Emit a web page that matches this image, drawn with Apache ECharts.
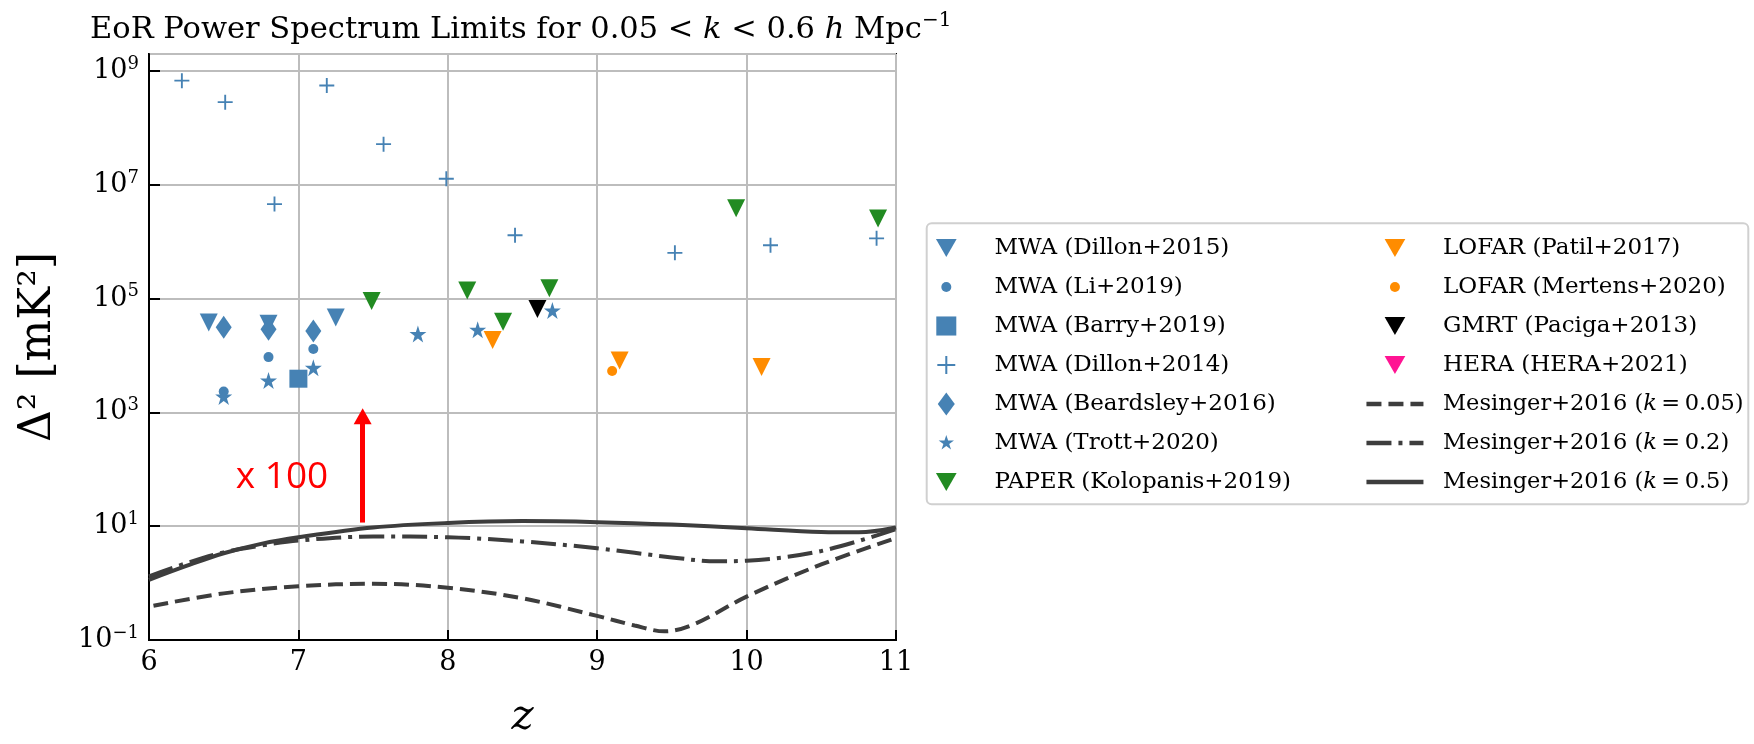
<!DOCTYPE html>
<html>
<head>
<meta charset="utf-8">
<title>EoR Power Spectrum Limits</title>
<script src="https://cdn.jsdelivr.net/npm/echarts@6/dist/echarts.min.js"></script>
<style>
  html, body { margin: 0; padding: 0; background: #fff; }
  #chart { width: 1754px; height: 744px; }
</style>
</head>
<body>
<div id="chart"></div>
<script>
// [z, Delta^2 in mK^2]
var dillon2015 = [[6.4, 38300], [6.8, 36300], [7.25, 46500]]
var li2019 = [[6.5, 2330], [6.8, 9400], [7.1, 13000]]
var barry2019 = [[7.0, 3920]]
var dillon2014 = [
  [6.22, 6.8e8], [6.51, 2.85e8], [7.19, 5.6e8], [7.57, 5.2e7], [7.99, 1.28e7],
  [6.84, 4.6e6], [8.45, 1.3e6], [9.52, 6.4e5], [10.16, 8.7e5], [10.87, 1.15e6]
]
var beardsley2016 = [[6.5, 31500], [6.8, 29100], [7.1, 26900]]
var trott2020 = [[6.5, 1900], [6.8, 3630], [7.1, 6100], [7.8, 24000], [8.2, 28400], [8.7, 62000]]
var kolopanis2019 = [[7.49, 91400], [8.13, 1.39e5], [8.37, 39200], [8.68, 1.53e5], [9.93, 3.9e6], [10.88, 2.56e6]]
var patil2017 = [[8.3, 18700], [9.15, 8200], [10.1, 6300]]
var mertens2020 = [[9.1, 5360]]
var paciga2013 = [[8.6, 66000]]
var hera2021 = []

// Mesinger+2016 model curves
var mesK005 = [
  [6.03, 0.40], [6.5, 0.66], [7, 0.88], [7.5, 0.975], [8, 0.83], [8.5, 0.54], [9, 0.265],
  [9.25, 0.18], [9.45, 0.142], [9.65, 0.19], [10, 0.58], [10.5, 2.13], [11, 6.2]
]
var mesK02 = [
  [6, 1.32], [6.25, 2.24], [6.5, 3.47], [6.75, 4.57], [7, 5.6], [7.5, 6.6], [8, 6.4],
  [8.5, 5.4], [9, 4.1], [9.5, 2.83], [9.8, 2.42], [10, 2.48], [10.5, 3.67], [11, 8.9]
]
var mesK05 = [
  [6, 1.14], [6.25, 2.0], [6.5, 3.35], [6.75, 4.9], [7, 6.4], [7.5, 9.5], [8, 11.4],
  [8.5, 12.3], [9, 11.8], [9.5, 10.7], [10, 9.25], [10.5, 7.9], [10.75, 7.8], [11, 9.5]
]

var leftNames = ['MWA (Dillon+2015)', 'MWA (Li+2019)', 'MWA (Barry+2019)', 'MWA (Dillon+2014)',
  'MWA (Beardsley+2016)', 'MWA (Trott+2020)', 'PAPER (Kolopanis+2019)']
var rightNames = ['LOFAR (Patil+2017)', 'LOFAR (Mertens+2020)', 'GMRT (Paciga+2013)', 'HERA (HERA+2021)',
  'Mesinger+2016 (k = 0.05)', 'Mesinger+2016 (k = 0.2)', 'Mesinger+2016 (k = 0.5)']

var SERIF = 'DejaVu Serif'
var BLUE = '#4682b4'
var GREEN = '#228b22'
var ORANGE = '#ff8c00'
var PINK = '#ff1493'
var LINE = '#3d3d3d'
var DASH = [15, 7]
var DASHDOT = [25, 7, 4, 7]

// marker shapes
var TRI = 'path://M0,0L20,0L10,20Z'
var PLUS = 'path://M7,0H9V7H16V9H9V16H7V9H0V7H7Z'
var STAR = 'path://M50,0L61.2,34.55L97.55,34.55L68.2,55.9L79.4,90.45L50,69.1L20.6,90.45L31.8,55.9L2.45,34.55L38.8,34.55Z'

// legend icons drawn in a padded 100x100 box so their sizes follow the figure
var BOX = 'M0,0M100,100'
var icons = {
  tri: 'path://' + BOX + 'M5,11L95,11L50,89Z',
  circle: 'path://' + BOX + 'M28.3,50A21.7,21.7,0,1,1,71.7,50A21.7,21.7,0,1,1,28.3,50Z',
  square: 'path://' + BOX + 'M6.5,8.5H93.5V91.5H6.5Z',
  plus: 'path://' + BOX + 'M45.6,11H54.4V45.6H89V54.4H54.4V89H45.6V54.4H11V45.6H45.6Z',
  diamond: 'path://' + BOX + 'M50,0L87,50L50,100L13,50Z',
  star: 'path://' + BOX + 'M50,15L57.9,39.2L83.3,39.2L62.7,54.1L70.6,78.3L50,63.4L29.4,78.3L37.3,54.1L16.7,39.2L42.1,39.2Z'
}

function scatter(name, data, color, symbol, size) {
  return {
    name: name,
    type: 'scatter',
    data: data,
    symbol: symbol,
    symbolSize: size,
    itemStyle: { color: color, opacity: 1 },
    emphasis: { disabled: true },
    z: 3
  }
}

function model(name, data, dash) {
  return {
    name: name,
    type: 'line',
    data: data,
    smooth: 0.35,
    symbol: 'none',
    lineStyle: { color: LINE, width: 4, type: dash, opacity: 1 },
    // only hides the dot that the legend puts on a line icon
    itemStyle: { color: LINE, opacity: 0 },
    emphasis: { disabled: true },
    z: 4
  }
}

function pow10Label(v) {
  var e = Math.round(Math.log10(v))
  return '{b|10}{s|' + (e < 0 ? '\u2212' + (-e) : e) + '}'
}

function legendText(name) {
  var m = name.match(/^(.*\()k = (.*)$/)
  if (!m) return '{g|\u00a0\u00a0}{t|' + name + '}'
  return '{g|\u00a0\u00a0}{m|' + m[1] + '}{mi|k}{m|\u2009=\u2009' + m[2] + '}'
}

var legendRich = {
  g: { fontFamily: SERIF, fontSize: 23, lineHeight: 23 },
  t: { fontFamily: SERIF, fontSize: 23, lineHeight: 23, color: '#000' },
  m: { fontFamily: SERIF, fontSize: 22.5, lineHeight: 23, color: '#000' },
  mi: { fontFamily: SERIF, fontSize: 22.5, lineHeight: 23, fontStyle: 'italic', color: '#000' }
}

function legendBlock(items, left) {
  return {
    data: items,
    orient: 'vertical',
    left: left,
    top: 236.5,
    padding: 0,
    itemWidth: 57,
    itemHeight: 23,
    itemGap: 16,
    selectedMode: false,
    formatter: legendText,
    textStyle: { fontFamily: SERIF, fontSize: 23, lineHeight: 23, rich: legendRich }
  }
}

function lineItem(name, dash) {
  return { name: name, itemStyle: { opacity: 0 }, lineStyle: { width: 4.5, type: dash, color: LINE } }
}

var leftItems = [
  { name: leftNames[0], icon: icons.tri },
  { name: leftNames[1], icon: icons.circle },
  { name: leftNames[2], icon: icons.square },
  { name: leftNames[3], icon: icons.plus },
  { name: leftNames[4], icon: icons.diamond },
  { name: leftNames[5], icon: icons.star },
  { name: leftNames[6], icon: icons.tri }
]
var rightItems = [
  { name: rightNames[0], icon: icons.tri },
  { name: rightNames[1], icon: icons.circle },
  { name: rightNames[2], icon: icons.tri },
  { name: rightNames[3], icon: icons.tri },
  lineItem(rightNames[4], DASH),
  lineItem(rightNames[5], DASHDOT),
  lineItem(rightNames[6], 'solid')
]

var myChart = echarts.init(document.getElementById('chart'), null, { renderer: 'canvas' })

var options = {
  backgroundColor: '#fff',
  animation: false,
  title: {
    text: '{t|EoR Power Spectrum Limits for 0.05 < }{i|k}{t| < 0.6 }{i|h}{t| Mpc}{s|\u22121}',
    left: 90,
    top: 11,
    padding: 0,
    textStyle: {
      fontWeight: 'normal',
      rich: {
        t: { fontFamily: SERIF, fontSize: 30.5, lineHeight: 38, fontWeight: 'normal', color: '#000' },
        i: { fontFamily: SERIF, fontSize: 30.5, lineHeight: 38, fontWeight: 'normal', fontStyle: 'italic', color: '#000' },
        s: { fontFamily: SERIF, fontSize: 20, lineHeight: 22, fontWeight: 'normal', color: '#000', verticalAlign: 'top' }
      }
    }
  },
  grid: {
    left: 149,
    top: 54,
    width: 747,
    height: 608,
    show: true,
    borderColor: '#000',
    borderWidth: 2,
    containLabel: false
  },
  xAxis: {
    type: 'value',
    min: 6,
    max: 11,
    interval: 1,
    name: 'z',
    nameLocation: 'middle',
    nameGap: 57,
    nameTextStyle: { fontFamily: SERIF, fontSize: 42, lineHeight: 42, fontStyle: 'italic', color: '#000' },
    axisLine: { show: true, onZero: false, lineStyle: { color: '#000', width: 2 } },
    axisTick: { show: true, inside: true, length: 10, lineStyle: { color: '#000', width: 2 } },
    splitLine: { show: true, lineStyle: { color: '#bdbdbd', width: 2 } },
    axisLabel: { fontFamily: SERIF, fontSize: 27, lineHeight: 27, color: '#000', margin: 9 }
  },
  yAxis: {
    type: 'log',
    logBase: 10,
    min: 0.1,
    max: 2.0e9,
    interval: 2,
    name: '\u0394\u00b2 [mK\u00b2]',
    nameLocation: 'middle',
    nameGap: 88,
    nameTextStyle: { fontFamily: SERIF, fontSize: 44, color: '#000' },
    axisLine: { show: true, lineStyle: { color: '#000', width: 2 } },
    axisTick: { show: true, inside: true, length: 11, lineStyle: { color: '#000', width: 2 } },
    minorTick: { show: false },
    splitLine: { show: true, lineStyle: { color: '#bdbdbd', width: 2 } },
    axisLabel: {
      margin: 10,
      showMaxLabel: false,
      formatter: pow10Label,
      rich: {
        b: { fontFamily: SERIF, fontSize: 27, lineHeight: 32, color: '#000' },
        s: { fontFamily: SERIF, fontSize: 18, lineHeight: 18, color: '#000', verticalAlign: 'top' }
      }
    }
  },
  legend: [legendBlock(leftItems, 934.8), legendBlock(rightItems, 1364.2)],
  graphic: [
    {
      type: 'rect',
      x: 926.7,
      y: 223.3,
      shape: { x: 0, y: 0, width: 821.6, height: 281, r: 5 },
      style: { fill: 'none', stroke: '#d0d0d0', lineWidth: 2 },
      z: -1
    }
  ],
  series: [
    scatter(leftNames[0], dillon2015, BLUE, TRI, 18),
    scatter(leftNames[1], li2019, BLUE, 'circle', 10),
    scatter(leftNames[2], barry2019, BLUE, 'rect', 18),
    scatter(leftNames[3], dillon2014, BLUE, PLUS, 15),
    scatter(leftNames[4], beardsley2016, BLUE, 'diamond', [16, 23]),
    scatter(leftNames[5], trott2020, BLUE, STAR, 17),
    scatter(leftNames[6], kolopanis2019, GREEN, TRI, 18),
    scatter(rightNames[0], patil2017, ORANGE, TRI, 18),
    scatter(rightNames[1], mertens2020, ORANGE, 'circle', 10),
    scatter(rightNames[2], paciga2013, '#000', TRI, 18),
    scatter(rightNames[3], hera2021, PINK, TRI, 18),
    model(rightNames[4], mesK005, DASH),
    model(rightNames[5], mesK02, DASHDOT),
    model(rightNames[6], mesK05, 'solid'),
    {
      // "x 100" annotation arrow
      name: 'arrow',
      type: 'line',
      data: [],
      silent: true,
      markLine: {
        silent: true,
        symbol: ['none', 'triangle'],
        symbolSize: [18, 16],
        label: { show: false },
        lineStyle: { color: '#ff0000', width: 5, type: 'solid' },
        data: [[{ coord: [7.43, 11.6] }, { coord: [7.43, 855] }]]
      },
      markPoint: {
        silent: true,
        symbol: 'circle',
        symbolSize: 0,
        label: {
          show: true,
          position: 'inside',
          formatter: 'x 100',
          fontFamily: 'Open Sans',
          fontSize: 37,
          color: '#ff0000'
        },
        data: [{ coord: [6.89, 72] }]
      }
    }
  ]
}

myChart.setOption(options)
</script>
</body>
</html>
